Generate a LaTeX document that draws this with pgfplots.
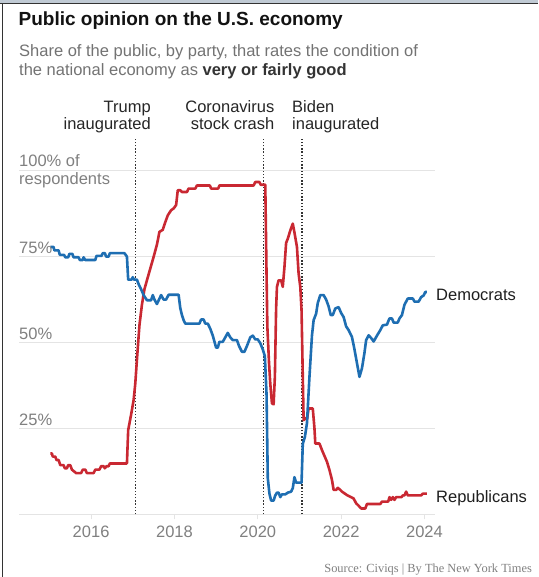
\documentclass[border=0pt]{standalone}
\usepackage{pgfplots}
\pgfplotsset{compat=1.18}
\usepackage{fontspec}
\setmainfont{Liberation Sans}
\newfontfamily\srcfont{Liberation Serif}
\definecolor{dem}{RGB}{30,110,178}
\definecolor{rep}{RGB}{201,40,50}
\definecolor{subg}{RGB}{115,115,115}
\definecolor{tickg}{RGB}{128,128,128}
\definecolor{gridg}{RGB}{228,228,228}
\definecolor{frameb}{RGB}{192,202,212}
\newcommand{\fs}[1]{\fontsize{#1}{#1}\selectfont}
\begin{document}
\begin{tikzpicture}[x=1pt,y=1pt]
\path[use as bounding box] (0,0) rectangle (538,-577);
\fill[white] (0,0) rectangle (538,-577);
\fill[frameb] (0,0) rectangle (538,-3);
\draw[line width=1.3pt, black!80] (0,-3.8) -- (538,-3.8);
\draw[line width=1.3pt, black!80] (2.8,-3.8) -- (2.8,-577);
\begin{axis}[
  at={(19pt,-514.3pt)}, anchor=south west,
  scale only axis, width=416.3pt, height=343.6pt,
  xmin=2014.27, xmax=2024.26, ymin=0, ymax=100,
  clip=false,
  axis x line=bottom, axis y line=left,
  x axis line style={draw=gridg, line width=0.8pt, -},
  y axis line style={draw=none},
  xtick={2016,2018,2020,2022,2024},
  xticklabels={2016,2018,2020,2022,2024},
  xtick style={draw=gridg, line width=0.8pt},
  tick align=outside, major tick length=5pt,
  xticklabel style={font=\fs{16.5}, text=tickg, yshift=-3pt},
  ytick={25,50,75,100}, yticklabels={}, ytick style={draw=none},
  ymajorgrids, grid style={draw=gridg, line width=0.8pt},
  /pgf/number format/assume math mode=true,
]
\draw[dash pattern=on 1.3pt off 1.9pt, line width=1.1pt, black!80] (axis cs:2017.056,0) -- (axis cs:2017.056,109.8);
\draw[dash pattern=on 1.3pt off 1.9pt, line width=1.1pt, black!80] (axis cs:2020.13,0) -- (axis cs:2020.13,109.8);
\draw[dash pattern=on 1.3pt off 1.9pt, line width=1.1pt, black!80] (axis cs:2021.06,0) -- (axis cs:2021.06,109.8);
% Republicans
\addplot[rep, line width=2.6pt, line join=round] coordinates {
(2015.02,17.7) (2015.06,17.7) (2015.08,16.8) (2015.14,16.8) (2015.17,15.8) (2015.22,15.8) (2015.26,14.3) (2015.34,14.3) (2015.37,13.4) (2015.42,13.4) (2015.45,14.3) (2015.50,14.3) (2015.54,13.0) (2015.60,12.4) (2015.64,12.0) (2015.76,12.0) (2015.80,13.0) (2015.86,13.0) (2015.90,12.0) (2016.06,12.0) (2016.10,13.0) (2016.20,13.0) (2016.24,14.0) (2016.30,14.0) (2016.33,13.4) (2016.37,14.0) (2016.42,14.0) (2016.45,14.8) (2016.86,14.8) (2016.89,24.5) (2016.96,29) (2017.02,33.2) (2017.06,38) (2017.10,45) (2017.16,55) (2017.22,61.0) (2017.28,65.5) (2017.34,68.1) (2017.42,71.5) (2017.50,74.9) (2017.58,78.5) (2017.64,82.2) (2017.72,82.8) (2017.78,85.0) (2017.84,87.0) (2017.92,88.5) (2017.98,89.0) (2018.04,90.0) (2018.08,94.3) (2018.14,94.3) (2018.18,93.8) (2018.30,93.8) (2018.34,94.8) (2018.50,94.8) (2018.54,95.7) (2018.85,95.7) (2018.88,94.8) (2019.05,94.8) (2019.08,95.7) (2019.90,95.7) (2019.94,96.7) (2020.04,96.7) (2020.07,95.9) (2020.18,95.9) (2020.21,70) (2020.23,54.5) (2020.27,44) (2020.30,38) (2020.34,32.3) (2020.38,32.0) (2020.41,40) (2020.44,60) (2020.46,66.2) (2020.50,68.1) (2020.56,68.1) (2020.60,66.2) (2020.64,72) (2020.68,79) (2020.72,80.2) (2020.78,82.6) (2020.84,84.6) (2020.88,82) (2020.94,77.8) (2020.98,70) (2021.02,66.2) (2021.05,59.4) (2021.08,40) (2021.10,27.4) (2021.14,28.0) (2021.18,27.6) (2021.22,30.8) (2021.32,30.8) (2021.36,25) (2021.38,20.6) (2021.48,20.6) (2021.54,18.7) (2021.60,17) (2021.66,15.3) (2021.72,12.9) (2021.78,10) (2021.82,7.1) (2021.88,7.1) (2021.92,7.7) (2021.98,7.1) (2022.02,6.6) (2022.08,6.1) (2022.14,5.6) (2022.22,5.1) (2022.30,4.6) (2022.36,3.2) (2022.42,2.5) (2022.48,1.7) (2022.58,1.7) (2022.62,3.0) (2022.94,3.0) (2022.98,3.7) (2023.13,3.7) (2023.16,5.0) (2023.20,4.2) (2023.24,5.0) (2023.28,4.2) (2023.32,5.0) (2023.45,5.0) (2023.48,5.5) (2023.52,5.5) (2023.56,6.6) (2023.60,5.5) (2023.92,5.5) (2023.96,6.0) (2024.06,6.0)
};
% Democrats
\addplot[dem, line width=2.6pt, line join=round] coordinates {
(2015.02,77.8) (2015.10,77.8) (2015.12,76.8) (2015.22,76.8) (2015.25,75.5) (2015.35,75.5) (2015.38,74.8) (2015.45,74.8) (2015.48,75.8) (2015.55,75.8) (2015.58,74.8) (2015.70,74.8) (2015.73,74.0) (2015.80,74.0) (2015.82,74.8) (2015.86,74.0) (2016.10,74.0) (2016.13,75.2) (2016.25,75.2) (2016.28,76.0) (2016.33,76.0) (2016.36,75.0) (2016.42,75.0) (2016.45,76.0) (2016.80,76.0) (2016.86,75.0) (2016.89,68.3) (2016.97,68.3) (2017.00,69.0) (2017.03,68.3) (2017.10,68.3) (2017.14,67.0) (2017.20,65.5) (2017.26,63.8) (2017.34,62.3) (2017.44,62.3) (2017.48,63.8) (2017.52,62.5) (2017.58,61.2) (2017.63,62.5) (2017.68,63.8) (2017.74,62.5) (2017.80,62.5) (2017.86,63.9) (2018.10,63.9) (2018.14,60.0) (2018.18,58.0) (2018.22,56.5) (2018.26,55.5) (2018.45,55.5) (2018.60,55.5) (2018.64,56.7) (2018.70,56.7) (2018.74,55.5) (2018.80,55.5) (2018.86,54.0) (2018.92,52.0) (2019.00,48.5) (2019.04,48.5) (2019.08,50.2) (2019.16,50.2) (2019.22,51.5) (2019.28,52.8) (2019.34,51.5) (2019.40,50.7) (2019.50,50.7) (2019.55,49.0) (2019.62,47.3) (2019.68,47.3) (2019.74,49.0) (2019.82,51.5) (2019.88,52.0) (2019.94,50.9) (2020.00,50.9) (2020.06,49.8) (2020.12,48.0) (2020.17,46.0) (2020.21,35.0) (2020.24,10.5) (2020.28,6.0) (2020.32,4.0) (2020.38,4.0) (2020.42,5.5) (2020.46,6.3) (2020.50,6.3) (2020.54,5.0) (2020.58,5.8) (2020.66,5.8) (2020.72,6.3) (2020.80,6.6) (2020.84,7.6) (2020.88,10.8) (2020.92,9.2) (2021.05,9.2) (2021.08,20.5) (2021.13,22.5) (2021.18,26.5) (2021.24,40) (2021.30,52) (2021.34,56.5) (2021.40,58.4) (2021.44,61.5) (2021.50,63.8) (2021.58,63.8) (2021.64,62.5) (2021.70,60.5) (2021.75,58.0) (2021.80,58.0) (2021.86,59.9) (2021.94,60.3) (2022.00,58.6) (2022.06,57.4) (2022.12,54.7) (2022.18,53.6) (2022.26,51.6) (2022.32,48.0) (2022.38,44.0) (2022.44,40.0) (2022.50,42.5) (2022.56,47.0) (2022.60,50.7) (2022.66,52.1) (2022.72,51.3) (2022.78,50.3) (2022.86,52.0) (2022.94,53.6) (2023.00,55.0) (2023.10,55.2) (2023.16,57.0) (2023.22,57.0) (2023.26,55.8) (2023.36,55.8) (2023.40,57.0) (2023.46,58.0) (2023.52,61.0) (2023.60,62.8) (2023.72,62.8) (2023.76,61.9) (2023.86,61.9) (2023.92,63.2) (2023.98,63.7) (2024.02,64.7) (2024.06,64.7)
};
\end{axis}
% titles
\node[anchor=base west, inner sep=0, text=black!93, font=\bfseries\fs{19}] at (18.5,-26) {Public opinion on the U.S. economy};
\node[anchor=base west, inner sep=0, text=subg, font=\fs{16.5}] at (19,-56.7) {Share of the public, by party, that rates the condition of};
\node[anchor=base west, inner sep=0, text=subg, font=\fs{16.5}] at (19,-75.5) {the national economy as \textcolor{black!80}{\bfseries very or fairly good}};
% event labels
\node[anchor=base east, inner sep=0, text=black!85, font=\fs{16.5}] at (151,-112.5) {Trump};
\node[anchor=base east, inner sep=0, text=black!85, font=\fs{16.5}] at (151,-130) {inaugurated};
\node[anchor=base east, inner sep=0, text=black!85, font=\fs{16.5}] at (274.5,-112.5) {Coronavirus};
\node[anchor=base east, inner sep=0, text=black!85, font=\fs{16.5}] at (274.5,-130) {stock crash};
\node[anchor=base west, inner sep=0, text=black!85, font=\fs{16.5}] at (292,-112.5) {Biden};
\node[anchor=base west, inner sep=0, text=black!85, font=\fs{16.5}] at (292,-130) {inaugurated};
% y labels
\node[anchor=base west, inner sep=0, text=tickg, font=\fs{16.5}] at (19,-167) {100\% of};
\node[anchor=base west, inner sep=0, text=tickg, font=\fs{16.5}] at (19,-185) {respondents};
\node[anchor=base west, inner sep=0, text=tickg, font=\fs{16.5}] at (19,-253.3) {75\%};
\node[anchor=base west, inner sep=0, text=tickg, font=\fs{16.5}] at (19,-339.5) {50\%};
\node[anchor=base west, inner sep=0, text=tickg, font=\fs{16.5}] at (19,-425.7) {25\%};
% series labels
\node[anchor=base west, inner sep=0, text=black!88, font=\fs{16.5}] at (436,-300) {Democrats};
\node[anchor=base west, inner sep=0, text=black!88, font=\fs{16.5}] at (436,-502.3) {Republicans};
% source
\node[anchor=base east, inner sep=0, text=tickg, font=\srcfont\fs{12.4}] at (532,-572) {Source: Civiqs | By The New York Times};
\end{tikzpicture}
\end{document}
